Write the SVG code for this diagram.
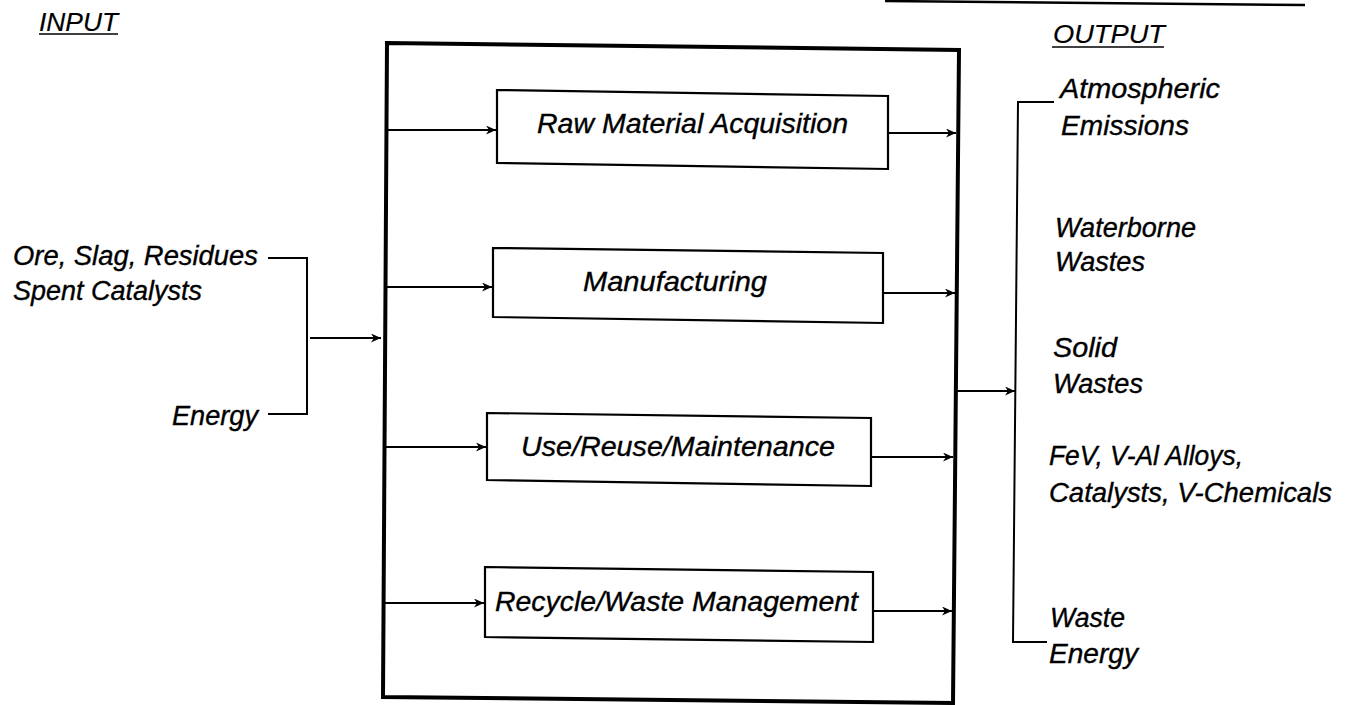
<svg xmlns="http://www.w3.org/2000/svg" width="1346" height="705" viewBox="0 0 1346 705">
  <defs>
    <marker id="arrow" markerUnits="userSpaceOnUse" markerWidth="12" markerHeight="10" refX="10" refY="4.5" orient="auto">
      <path d="M0,0 L10,4.5 L0,9 L3,4.5 z" fill="#000"/>
    </marker>
    <style>
      text { font-family: "Liberation Sans", Arial, sans-serif; font-style: italic; font-size: 27px; fill: #000; stroke: #000; stroke-width: 0.35; }
      .head { font-size: 25px; stroke-width: 0.2; }
      .frame { fill: none; stroke: #000; stroke-width: 4; stroke-linejoin: miter; }
      .box { fill: #fff; stroke: #000; stroke-width: 2.2; }
      .wire { fill: none; stroke: #000; stroke-width: 2; }
      .flow { fill: none; stroke: #000; stroke-width: 2; marker-end: url(#arrow); }
      .rule { fill: none; stroke: #000; stroke-width: 1.6; }
    </style>
  </defs>

  <rect width="1346" height="705" fill="#fff"/>

  <!-- header rule at top right -->
  <path d="M885,1 L1305,5" stroke="#000" stroke-width="2.5" fill="none"/>

  <!-- column headings -->
  <g id="heading-input">
    <text class="head" x="39" y="31" textLength="79" lengthAdjust="spacingAndGlyphs">INPUT</text>
    <path class="rule" d="M39,34 L118,34"/>
  </g>
  <g id="heading-output">
    <text class="head" x="1053" y="43" textLength="112" lengthAdjust="spacingAndGlyphs">OUTPUT</text>
    <path class="rule" d="M1052,47 L1164,47"/>
  </g>

  <!-- life-cycle system boundary -->
  <g id="system-boundary">
    <path class="frame" d="M387,43 L959,50 L953,703 L383,697 Z"/>
  </g>

  <!-- stage boxes -->
  <g id="raw-material">
    <path class="box" d="M497,90 L888,96 L888,169 L497,163 Z"/>
    <text x="537" y="133" textLength="311" lengthAdjust="spacingAndGlyphs">Raw Material Acquisition</text>
  </g>
  <g id="manufacturing">
    <path class="box" d="M493,248 L883,253 L883,323 L493,317 Z"/>
    <text x="583" y="291" textLength="184" lengthAdjust="spacingAndGlyphs">Manufacturing</text>
  </g>
  <g id="use-reuse">
    <path class="box" d="M487,413 L871,418 L871,486 L487,480 Z"/>
    <text x="521" y="456" textLength="314" lengthAdjust="spacingAndGlyphs">Use/Reuse/Maintenance</text>
  </g>
  <g id="recycle">
    <path class="box" d="M485,567 L873,572 L873,642 L485,637 Z"/>
    <text x="495" y="611" textLength="363" lengthAdjust="spacingAndGlyphs">Recycle/Waste Management</text>
  </g>

  <!-- inputs -->
  <g id="inputs">
    <text x="13" y="265" textLength="245" lengthAdjust="spacingAndGlyphs">Ore, Slag, Residues</text>
    <text x="13" y="300" textLength="189" lengthAdjust="spacingAndGlyphs">Spent Catalysts</text>
    <text x="172" y="425" textLength="86" lengthAdjust="spacingAndGlyphs">Energy</text>
  </g>

  <!-- outputs -->
  <g id="outputs">
    <text x="1060" y="98" textLength="160" lengthAdjust="spacingAndGlyphs">Atmospheric</text>
    <text x="1061" y="135" textLength="128" lengthAdjust="spacingAndGlyphs">Emissions</text>
    <text x="1055" y="237" textLength="141" lengthAdjust="spacingAndGlyphs">Waterborne</text>
    <text x="1055" y="271" textLength="90" lengthAdjust="spacingAndGlyphs">Wastes</text>
    <text x="1053" y="357" textLength="64" lengthAdjust="spacingAndGlyphs">Solid</text>
    <text x="1053" y="393" textLength="90" lengthAdjust="spacingAndGlyphs">Wastes</text>
    <text x="1049" y="465" textLength="194" lengthAdjust="spacingAndGlyphs">FeV, V-Al Alloys,</text>
    <text x="1049" y="502" textLength="283" lengthAdjust="spacingAndGlyphs">Catalysts, V-Chemicals</text>
    <text x="1050" y="627" textLength="75" lengthAdjust="spacingAndGlyphs">Waste</text>
    <text x="1049" y="663" textLength="89" lengthAdjust="spacingAndGlyphs">Energy</text>
  </g>

  <!-- connectors -->
  <g id="connectors">
    <!-- input bracket -->
    <path class="wire" d="M268,258 L307,258 L307,414 L268,414"/>
    <path class="flow" d="M310,338 L381,338"/>

    <!-- boundary to stages -->
    <path class="flow" d="M388,130 L496,130"/>
    <path class="flow" d="M387,287 L492,287"/>
    <path class="flow" d="M386,447 L486,447"/>
    <path class="flow" d="M385,603 L484,603"/>

    <!-- stages to boundary -->
    <path class="flow" d="M889,133 L956,133"/>
    <path class="flow" d="M884,293 L955,293"/>
    <path class="flow" d="M872,457 L953,457"/>
    <path class="flow" d="M874,611 L952,611"/>

    <!-- output bracket -->
    <path class="flow" d="M957,391 L1015,391"/>
    <path class="wire" d="M1054,102 L1018,102 L1013,642 L1047,642"/>
  </g>
</svg>
